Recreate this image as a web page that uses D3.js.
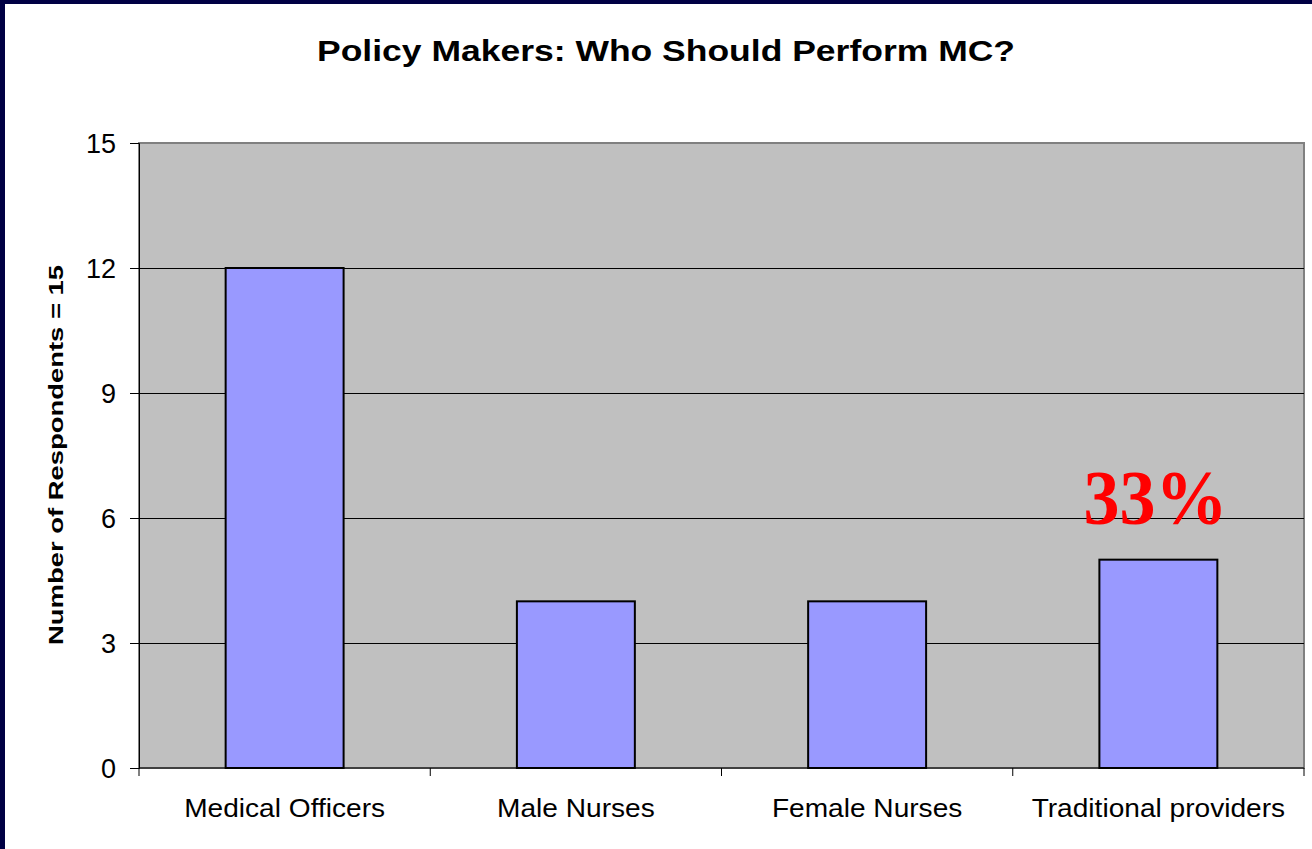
<!DOCTYPE html>
<html><head><meta charset="utf-8">
<script src="https://cdn.jsdelivr.net/npm/d3@7"></script>
<style>html,body{margin:0;padding:0;background:#fff;}svg{display:block;}</style>
</head><body>
<script>
const categories = ["Medical Officers", "Male Nurses", "Female Nurses", "Traditional providers"];
const values = [12, 4, 4, 5];
const yTicks = [0, 3, 6, 9, 12, 15];
const title = "Policy Makers: Who Should Perform MC?";
const yLabel = "Number of Respondents = 15";
const annotation = {category: "Traditional providers", text: "33%"};

const W = 1312, H = 849;
const FONT = "Liberation Sans, Arial, sans-serif";
const svg = d3.select("body").append("svg").attr("width", W).attr("height", H);
svg.append("rect").attr("width", W).attr("height", H).attr("fill", "#fff");
// navy frame
svg.append("rect").attr("x", 0).attr("y", 0).attr("width", 5).attr("height", H).attr("fill", "#000044");
svg.append("rect").attr("x", 0).attr("y", 0).attr("width", W).attr("height", 4).attr("fill", "#000044");

const L = 139, R = 1304, T = 143, B = 768;
const x = d3.scaleBand().domain(categories).range([L, R]).padding(0);
const y = d3.scaleLinear().domain([0, 15]).range([B, T]);

svg.append("rect").attr("x", L).attr("y", T).attr("width", R - L).attr("height", B - T)
  .attr("fill", "#c0c0c0").attr("stroke", "#808080").attr("stroke-width", 2);

// gridlines
svg.append("g").selectAll("line").data(yTicks.filter(d => d > 0 && d < 15)).join("line")
  .attr("x1", L).attr("x2", R).attr("y1", d => y(d)).attr("y2", d => y(d))
  .attr("stroke", "#000").attr("stroke-width", 1).attr("shape-rendering", "crispEdges");

// bars
const bw = x.bandwidth() * 0.405;
svg.append("g").selectAll("rect").data(values).join("rect")
  .attr("x", (d, i) => x(categories[i]) + x.bandwidth() / 2 - bw / 2)
  .attr("y", d => y(d)).attr("width", bw).attr("height", d => B - y(d))
  .attr("fill", "#9999ff").attr("stroke", "#000").attr("stroke-width", 2);

// y axis
const yAxis = d3.axisLeft(y).tickValues(yTicks).tickSize(9).tickPadding(14);
const ga = svg.append("g").attr("transform", `translate(${L},0)`).call(yAxis);
ga.select(".domain").attr("stroke", "#000").attr("stroke-width", 1);
ga.selectAll(".tick line").attr("stroke", "#000");
ga.selectAll(".tick text").attr("font-family", FONT).attr("font-size", 27).attr("fill", "#000").attr("dy", "0.36em");

// x axis
const gx = svg.append("g").attr("transform", `translate(0,${B})`);
gx.append("line").attr("x1", L).attr("x2", R).attr("y1", 0).attr("y2", 0).attr("stroke", "#000");
const bounds = categories.map(c => x(c)).concat([R]);
gx.selectAll("line.tk").data(bounds).join("line").attr("class", "tk")
  .attr("x1", d => d).attr("x2", d => d).attr("y1", 0).attr("y2", 8).attr("stroke", "#000");
gx.selectAll("text").data(categories).join("text")
  .attr("x", d => x(d) + x.bandwidth() / 2).attr("y", 49)
  .attr("text-anchor", "middle").attr("font-family", FONT)
  .attr("font-size", 26.5).attr("fill", "#000").text(d => d)
  .each(function() {
    const n = this.getComputedTextLength();
    d3.select(this).attr("textLength", n * 1.06).attr("lengthAdjust", "spacingAndGlyphs");
  });

// title
svg.append("text").attr("x", 666).attr("y", 61).attr("text-anchor", "middle")
  .attr("font-family", FONT).attr("font-weight", "bold")
  .attr("font-size", 29).attr("fill", "#000").text(title)
  .attr("textLength", 698).attr("lengthAdjust", "spacingAndGlyphs");

// y label
svg.append("text").attr("transform", `translate(63,${455}) rotate(-90)`)
  .attr("text-anchor", "middle").attr("font-family", FONT)
  .attr("font-weight", "bold").attr("font-size", 21).attr("fill", "#000").text(yLabel)
  .attr("textLength", 380).attr("lengthAdjust", "spacingAndGlyphs");

// annotation
const ai = categories.indexOf(annotation.category);
svg.append("text").attr("x", x(annotation.category) + x.bandwidth() / 2 - 3).attr("y", y(values[ai]) - 36)
  .attr("text-anchor", "middle").attr("font-family", "Liberation Serif, Times New Roman, serif")
  .attr("font-weight", "bold").attr("font-size", 78).attr("fill", "#ff0000").text(annotation.text)
  .attr("textLength", 144).attr("lengthAdjust", "spacingAndGlyphs");
</script>
</body></html>
